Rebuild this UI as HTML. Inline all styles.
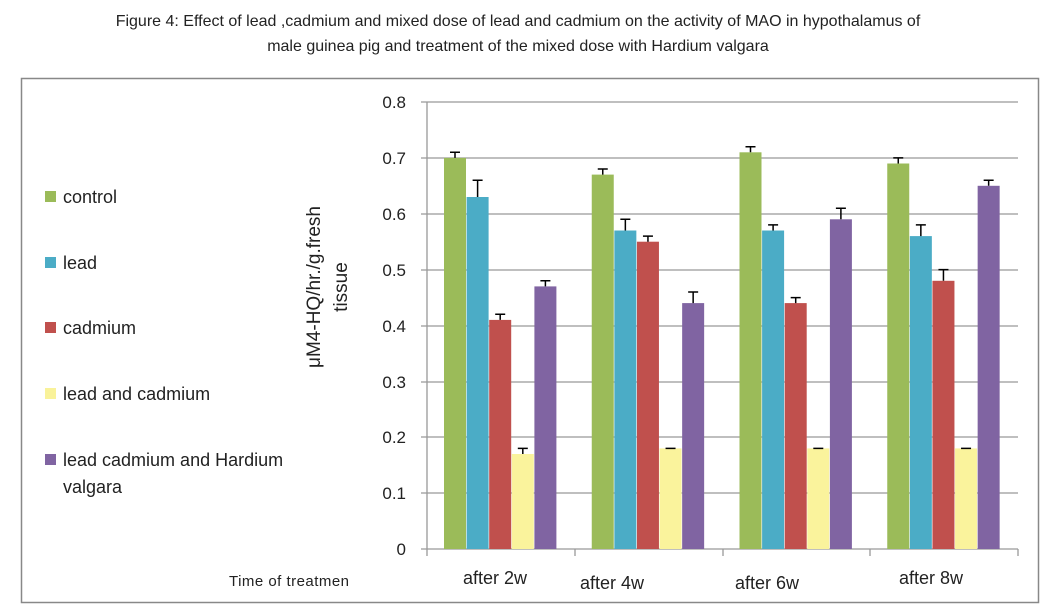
<!DOCTYPE html>
<html><head><meta charset="utf-8"><style>body{margin:0;background:#fff}</style></head><body>
<svg width="1048" height="608" xmlns="http://www.w3.org/2000/svg" font-family="Liberation Sans, sans-serif">
<rect width="1048" height="608" fill="#fff"/>
<text x="518" y="26" font-size="16" text-anchor="middle" fill="#222">Figure 4: Effect of lead ,cadmium and  mixed dose of lead and cadmium on the activity of MAO in hypothalamus  of</text>
<text x="518" y="51" font-size="16" text-anchor="middle" fill="#222">male  guinea pig and treatment of the mixed dose with Hardium valgara</text>
<rect x="21.5" y="78.5" width="1017" height="524" fill="none" stroke="#888" stroke-width="1.5"/>
<g stroke="#999" stroke-width="1.3">
<line x1="421" y1="102" x2="1018" y2="102"/><line x1="421" y1="158" x2="1018" y2="158"/>
<line x1="421" y1="214" x2="1018" y2="214"/><line x1="421" y1="270" x2="1018" y2="270"/>
<line x1="421" y1="326" x2="1018" y2="326"/><line x1="421" y1="382" x2="1018" y2="382"/>
<line x1="421" y1="437" x2="1018" y2="437"/><line x1="421" y1="493" x2="1018" y2="493"/>
<line x1="421" y1="549" x2="1018" y2="549"/>
<line x1="427" y1="102" x2="427" y2="556"/>
<line x1="575" y1="549" x2="575" y2="556"/><line x1="723" y1="549" x2="723" y2="556"/>
<line x1="870" y1="549" x2="870" y2="556"/><line x1="1018" y1="549" x2="1018" y2="556"/>
</g>
<g font-size="17" text-anchor="end" fill="#222">
<text x="406" y="108">0.8</text><text x="406" y="164">0.7</text><text x="406" y="220">0.6</text>
<text x="406" y="276">0.5</text><text x="406" y="332">0.4</text><text x="406" y="388">0.3</text>
<text x="406" y="443">0.2</text><text x="406" y="499">0.1</text><text x="406" y="555">0</text>
</g>
<g stroke="#000" stroke-width="1.5">
<!-- group 1 -->
<g transform="translate(444,0)">
<rect x="0" y="157.9" width="22" height="391.1" fill="#9bbb59" stroke="none"/>
<rect x="22.6" y="197" width="22" height="352" fill="#4bacc6" stroke="none"/>
<rect x="45.2" y="319.9" width="22" height="229.1" fill="#c0504d" stroke="none"/>
<rect x="67.8" y="454" width="22" height="95" fill="#faf39c" stroke="none"/>
<rect x="90.4" y="286.4" width="22" height="262.6" fill="#8064a2" stroke="none"/>
<path d="M11 157.9V152.3M6 152.3H16 M33.6 197V180.2M28.6 180.2H38.6 M56.2 319.9V314.3M51.2 314.3H61.2 M78.8 454V448.4M73.8 448.4H83.8 M101.4 286.4V280.8M96.4 280.8H106.4" fill="none"/>
</g>
<!-- group 2 -->
<g transform="translate(591.75,0)">
<rect x="0" y="174.6" width="22" height="374.4" fill="#9bbb59" stroke="none"/>
<rect x="22.6" y="230.5" width="22" height="318.5" fill="#4bacc6" stroke="none"/>
<rect x="45.2" y="241.7" width="22" height="307.3" fill="#c0504d" stroke="none"/>
<rect x="67.8" y="448.4" width="22" height="100.6" fill="#faf39c" stroke="none"/>
<rect x="90.4" y="303.1" width="22" height="245.9" fill="#8064a2" stroke="none"/>
<path d="M11 174.6V169M6 169H16 M33.6 230.5V219.3M28.6 219.3H38.6 M56.2 241.7V236.1M51.2 236.1H61.2 M73.8 448.4H83.8 M101.4 303.1V292M96.4 292H106.4" fill="none"/>
</g>
<!-- group 3 -->
<g transform="translate(739.5,0)">
<rect x="0" y="152.3" width="22" height="396.7" fill="#9bbb59" stroke="none"/>
<rect x="22.6" y="230.5" width="22" height="318.5" fill="#4bacc6" stroke="none"/>
<rect x="45.2" y="303.1" width="22" height="245.9" fill="#c0504d" stroke="none"/>
<rect x="67.8" y="448.4" width="22" height="100.6" fill="#faf39c" stroke="none"/>
<rect x="90.4" y="219.3" width="22" height="329.7" fill="#8064a2" stroke="none"/>
<path d="M11 152.3V146.7M6 146.7H16 M33.6 230.5V224.9M28.6 224.9H38.6 M56.2 303.1V297.6M51.2 297.6H61.2 M73.8 448.4H83.8 M101.4 219.3V208.2M96.4 208.2H106.4" fill="none"/>
</g>
<!-- group 4 -->
<g transform="translate(887.25,0)">
<rect x="0" y="163.5" width="22" height="385.5" fill="#9bbb59" stroke="none"/>
<rect x="22.6" y="236.1" width="22" height="312.9" fill="#4bacc6" stroke="none"/>
<rect x="45.2" y="280.8" width="22" height="268.2" fill="#c0504d" stroke="none"/>
<rect x="67.8" y="448.4" width="22" height="100.6" fill="#faf39c" stroke="none"/>
<rect x="90.4" y="185.8" width="22" height="363.2" fill="#8064a2" stroke="none"/>
<path d="M11 163.5V157.9M6 157.9H16 M33.6 236.1V224.9M28.6 224.9H38.6 M56.2 280.8V269.6M51.2 269.6H61.2 M73.8 448.4H83.8 M101.4 185.8V180.2M96.4 180.2H106.4" fill="none"/>
</g>
</g>
<g font-size="18" fill="#222">
<text x="463" y="584">after 2w</text><text x="580" y="589">after 4w</text>
<text x="735" y="589">after 6w</text><text x="899" y="584">after 8w</text>
</g>
<text x="229" y="586" font-size="15" fill="#222" textLength="120">Time of treatmen</text>
<g transform="translate(320,287) rotate(-90)" font-size="19" fill="#222" text-anchor="middle">
<text x="0" y="0">μM4-HQ/hr./g.fresh</text><text x="0" y="27">tissue</text>
</g>
<g font-size="18" fill="#222">
<rect x="45" y="191" width="11" height="11" fill="#9bbb59"/><text x="63" y="203">control</text>
<rect x="45" y="257" width="11" height="11" fill="#4bacc6"/><text x="63" y="269">lead</text>
<rect x="45" y="322" width="11" height="11" fill="#c0504d"/><text x="63" y="334">cadmium</text>
<rect x="45" y="388" width="11" height="11" fill="#f9f29a"/><text x="63" y="400">lead and cadmium</text>
<rect x="45" y="454" width="11" height="11" fill="#8064a2"/><text x="63" y="466">lead cadmium and Hardium</text>
<text x="63" y="493">valgara</text>
</g>
</svg>
</body></html>
